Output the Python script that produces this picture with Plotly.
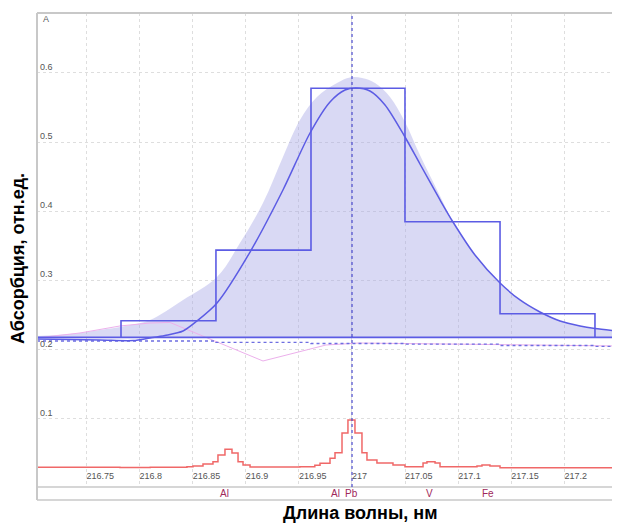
import plotly.graph_objects as go

# ---------------- data ----------------
BASELINE = 0.218

# smooth fitted contour (blue line)
fit_x = [216.7034, 216.7627, 216.7938, 216.8098, 216.8239, 216.8409, 216.8540, 216.8729,
         216.9040, 216.9350, 216.9605, 216.9793, 216.9934, 217.0038, 217.0169, 217.0311,
         217.0499, 217.0640, 217.0829, 217.0951, 217.1158, 217.1394, 217.1582, 217.1770,
         217.1959, 217.2147, 217.2288, 217.2495]
fit_y = [0.2156, 0.2142, 0.2134, 0.2171, 0.2207, 0.2272, 0.2416, 0.2676,
         0.3413, 0.4309, 0.5133, 0.5581, 0.5754, 0.5783, 0.5740, 0.5538,
         0.5075, 0.4685, 0.4165, 0.3847, 0.3370, 0.2965, 0.2720, 0.2546,
         0.2416, 0.2344, 0.2308, 0.2272]

# measured absorption contour (shaded area)
meas_x = [216.7034, 216.7345, 216.7627, 216.7863, 216.8098, 216.8409, 216.8729, 216.8945,
          216.9162, 216.9350, 216.9510, 216.9670, 216.9859, 216.9981, 217.0094, 217.0217,
          217.0358, 217.0499, 217.0640, 217.0829, 217.0951, 217.1158, 217.1394, 217.1582,
          217.1770, 217.1959, 217.2147, 217.2288, 217.2495]
meas_y = [0.2199, 0.2228, 0.2286, 0.2344, 0.2431, 0.2720, 0.3052, 0.3543,
          0.4121, 0.4786, 0.5321, 0.5653, 0.5855, 0.5935, 0.5928, 0.5855,
          0.5653, 0.5292, 0.4815, 0.4223, 0.3847, 0.3370, 0.2965, 0.2720,
          0.2546, 0.2416, 0.2344, 0.2308, 0.2272]

# pixel histogram (step outline)
bin_edges = [216.7825, 216.8719, 216.9614, 217.0499, 217.1394, 217.2288]
bin_heights = [0.242, 0.344, 0.578, 0.385, 0.252]

# corrected background (dotted steps)
bg_x = [216.7034, 216.8719, 216.9614, 217.0499, 217.1394, 217.2288, 217.2486]
bg_y = [0.2127, 0.2106, 0.2091, 0.2081, 0.2062, 0.2048, 0.2048]

# difference line (pink)
diff_x = [216.7034, 216.7439, 216.7815, 216.8098, 216.8286, 216.8691, 216.9162,
          216.9755, 217.0066, 217.2486]
diff_y = [0.2171, 0.2243, 0.2344, 0.2387, 0.2395, 0.2141, 0.1838,
          0.2069, 0.2098, 0.2055]

# interference spectrum (red steps)
spec_x = [216.7034, 216.7815, 216.8100, 216.8446, 216.8503, 216.8597, 216.8691, 216.8738,
          216.8804, 216.8870, 216.8927, 216.8974, 216.9040, 216.9510, 216.9650, 216.9699,
          216.9793, 216.9840, 216.9906, 216.9962, 217.0028, 217.0094, 217.0141, 217.0235,
          217.0386, 217.0499, 217.0669, 217.0706, 217.0782, 217.0829, 217.1177, 217.1224,
          217.1299, 217.1394, 217.2495]
spec_y = [0.0302, 0.0298, 0.0302, 0.0311, 0.0321, 0.0350, 0.0383, 0.0480,
          0.0562, 0.0509, 0.0383, 0.0335, 0.0306, 0.0311, 0.0330, 0.0360,
          0.0432, 0.0513, 0.0798, 0.0986, 0.0798, 0.0513, 0.0408, 0.0364,
          0.0335, 0.0311, 0.0364, 0.0383, 0.0364, 0.0311, 0.0321, 0.0335,
          0.0321, 0.0296, 0.0300]

analyte_line = 217.0
element_names = ["Al", "Al", "Pb", "V", "Fe"]
element_pos = [216.8804, 216.9840, 217.0000, 217.0734, 217.1281]

x_ticks = [216.75, 216.8, 216.85, 216.9, 216.95, 217.0, 217.05, 217.1, 217.15, 217.2]
x_tick_text = ["216.75", "216.8", "216.85", "216.9", "216.95", "217", "217.05", "217.1", "217.15", "217.2"]
y_ticks = [0.1, 0.2, 0.3, 0.4, 0.5, 0.6]
y_tick_text = ["0.1", "0.2", "0.3", "0.4", "0.5", "0.6"]

X_RANGE = [216.7034, 217.2486]
Y_RANGE = [0.0017, 0.6867]

# ---------------- styles ----------------
BLUE = "rgb(92,92,228)"
FILL = "rgba(165,165,228,0.42)"
RED = "rgb(240,104,104)"
PINK = "rgb(236,176,236)"
LABEL = "rgb(160,40,90)"
GRID = "rgb(222,222,222)"
FRAME = "rgb(200,200,200)"

fig = go.Figure()

# invisible baseline for the fill
fig.add_trace(go.Scatter(x=X_RANGE, y=[BASELINE, BASELINE], mode="lines",
                         line=dict(width=0, color=BLUE), hoverinfo="skip"))
fig.add_trace(go.Scatter(x=meas_x, y=meas_y, mode="lines", line=dict(width=0, shape="spline"),
                         fill="tonexty", fillcolor=FILL, hoverinfo="skip"))

fig.add_trace(go.Scatter(x=diff_x, y=diff_y, mode="lines", line=dict(color=PINK, width=1)))
fig.add_trace(go.Scatter(x=bg_x, y=bg_y, mode="lines",
                         line=dict(color="rgb(110,110,225)", width=1.3, dash="dot", shape="hv")))
fig.add_trace(go.Scatter(x=X_RANGE, y=[BASELINE, BASELINE], mode="lines",
                         line=dict(color=BLUE, width=1.6)))
fig.add_trace(go.Scatter(x=spec_x, y=spec_y, mode="lines",
                         line=dict(color=RED, width=1.5, shape="hv")))
fig.add_trace(go.Scatter(x=fit_x, y=fit_y, mode="lines",
                         line=dict(color=BLUE, width=1.5, shape="spline", smoothing=0.8)))

step_x = [bin_edges[0]] + bin_edges
step_y = [BASELINE] + bin_heights + [BASELINE]
fig.add_trace(go.Scatter(x=step_x, y=step_y, mode="lines",
                         line=dict(color=BLUE, width=1.6, shape="hv")))

BAND_TOP = 13 / 487.0

shapes = [
    dict(type="line", xref="paper", yref="paper", x0=0, x1=0, y0=0, y1=1,
         line=dict(color=FRAME, width=2)),
    dict(type="line", xref="paper", yref="paper", x0=0, x1=0.995, y0=1, y1=1,
         line=dict(color=FRAME, width=2)),
    dict(type="line", xref="paper", yref="paper", x0=0, x1=1, y0=BAND_TOP, y1=BAND_TOP,
         line=dict(color=FRAME, width=1.5)),
    dict(type="line", xref="paper", yref="paper", x0=0, x1=1, y0=0, y1=0,
         line=dict(color=FRAME, width=1.5)),
    dict(type="line", xref="x", yref="y domain", x0=analyte_line, x1=analyte_line, y0=0, y1=1,
         line=dict(color="rgb(70,70,200)", width=1.2, dash="dot")),
]
annotations = []
for name, pos in zip(element_names, element_pos):
    annotations.append(dict(x=pos, y=BAND_TOP / 2, xref="x", yref="paper", text=name,
                            showarrow=False, xanchor="center", yanchor="middle",
                            font=dict(family="Liberation Sans", size=10, color=LABEL)))

annotations += [
    dict(x=(360 - 37) / 579.0, y=(500 - 513) / 487.0, xref="paper", yref="paper",
         text="<b>Длина волны, нм</b>", showarrow=False, xanchor="center", yanchor="middle",
         font=dict(family="Liberation Sans", size=18, color="black")),
    dict(x=(18 - 37) / 579.0, y=(500 - 259) / 487.0, xref="paper", yref="paper",
         text="<b>Абсорбция, отн.ед.</b>", showarrow=False, textangle=-90,
         xanchor="center", yanchor="middle",
         font=dict(family="Liberation Sans", size=18, color="black")),
    dict(x=(41 - 37) / 579.0, y=(500 - 19) / 487.0, xref="paper", yref="paper",
         text="A", showarrow=False, xanchor="left", yanchor="middle",
         font=dict(family="Liberation Sans", size=9, color="rgb(90,90,90)")),
]

# the page body keeps an 8 px browser margin, so the figure is 8 px smaller
fig.update_layout(
    width=612, height=516,
    margin=dict(l=29, r=4, t=5, b=24, pad=0, autoexpand=False),
    plot_bgcolor="white", paper_bgcolor="white",
    showlegend=False,
    shapes=shapes, annotations=annotations,
    xaxis=dict(range=X_RANGE, tickvals=x_ticks, ticktext=x_tick_text, automargin=False,
               ticklabelposition="inside right", ticks="", showline=False, zeroline=False,
               showgrid=True, gridcolor=GRID, griddash="dot", gridwidth=1,
               tickfont=dict(family="Liberation Sans", size=9, color="rgb(85,85,85)"),
               fixedrange=True),
    yaxis=dict(domain=[BAND_TOP, 1], range=Y_RANGE, tickvals=y_ticks, ticktext=y_tick_text,
               automargin=False,
               ticklabelposition="inside top", ticks="", showline=False, zeroline=False,
               showgrid=True, gridcolor=GRID, griddash="dot", gridwidth=1,
               tickfont=dict(family="Liberation Sans", size=9, color="rgb(85,85,85)"),
               fixedrange=True),
)

fig.write_html("out.html")
